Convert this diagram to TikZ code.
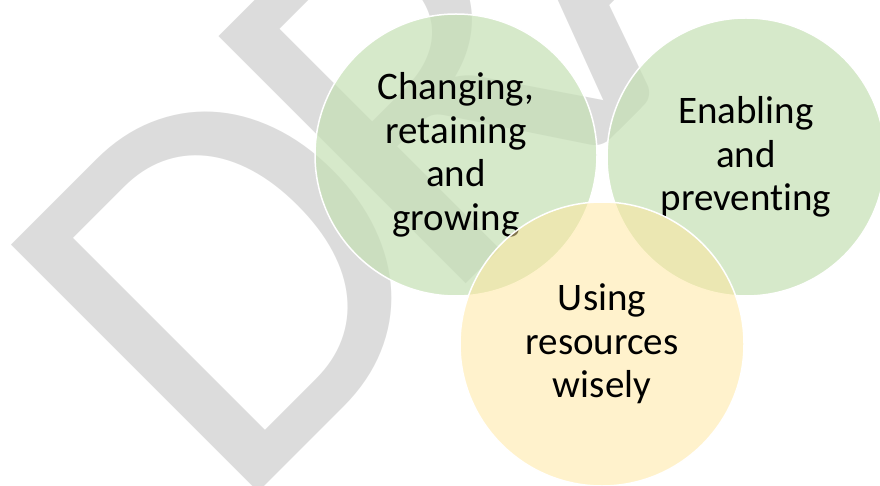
\documentclass[tikz,border=0pt]{standalone}
\usepackage{fontspec}
\setmainfont{Carlito}[Ligatures=NoCommon]
\definecolor{leaf}{HTML}{C5E0B4}
\definecolor{sand}{HTML}{FFE699}
\definecolor{wmgray}{HTML}{DCDCDC}
\begin{document}
\begin{tikzpicture}[x=1pt,y=-1pt,
venn/.style={circle,draw=white,line width=1.5pt,fill opacity=0.7,text opacity=1,minimum size=282pt,inner sep=0pt,align=center,font=\fontsize{39}{43.5}\selectfont}]
\useasboundingbox(0,0)rectangle(880,486);
\clip(0,0)rectangle(880,486);
% watermark
\node[text=wmgray,rotate=45,anchor=base west,inner sep=0pt,outer sep=0pt,font=\fontsize{545}{545}\selectfont\addfontfeature{LetterSpace=-8}](wm)at(232,518){DRAFT};
% venn
\node[venn,fill=leaf](chg)at(456,155){Changing,\\retaining\\and\\growing};
\node[venn,fill=leaf,minimum size=278pt](enb)at(746,157){Enabling\\and\\preventing};
\node[venn,fill=sand,fill opacity=0.5,minimum size=284pt](use)at(602,344){Using\\resources\\wisely};
\end{tikzpicture}
\end{document}
